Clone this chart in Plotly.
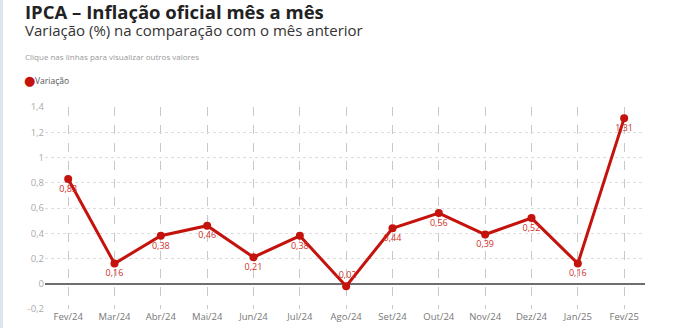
import plotly.graph_objects as go

months = ["Fev/24", "Mar/24", "Abr/24", "Mai/24", "Jun/24", "Jul/24", "Ago/24",
          "Set/24", "Out/24", "Nov/24", "Dez/24", "Jan/25", "Fev/25"]
values = [0.83, 0.16, 0.38, 0.46, 0.21, 0.38, -0.02, 0.44, 0.56, 0.39, 0.52, 0.16, 1.31]
labels = ["0,83", "0,16", "0,38", "0,46", "0,21", "0,38", "-0,02", "0,44", "0,56",
          "0,39", "0,52", "0,16", "1,31"]
y_ticks = [-0.2, 0, 0.2, 0.4, 0.6, 0.8, 1, 1.2, 1.4]
y_tick_text = ["-0,2", "0", "0,2", "0,4", "0,6", "0,8", "1", "1,2", "1,4"]

RED = "#c4120c"
W, H = 675, 328
L, R, T, B = 45, 30, 107, 19
pw = W - L - R
ph = H - T - B

def px_x(x):
    return (x - L) / pw

def px_y(y):
    return (H - B - y) / ph

idx = list(range(len(months)))
positions = ["top center" if v < 0 else "bottom center" for v in values]

fig = go.Figure()
fig.add_trace(go.Scatter(
    x=idx, y=values, mode="lines+markers+text",
    line=dict(color=RED, width=3),
    marker=dict(color=RED, size=8),
    text=labels, textposition=positions,
    textfont=dict(color="#d0302a", size=9, family="Open Sans"),
    showlegend=False, cliponaxis=False,
))

fig.update_layout(
    width=W, height=H,
    margin=dict(l=L, r=R, t=T, b=B, autoexpand=False),
    paper_bgcolor="white", plot_bgcolor="white",
    font=dict(family="Open Sans", color="#888"),
    xaxis=dict(
        range=[-0.5, 12.45], tickvals=idx, ticktext=months,
        showgrid=True, gridcolor="#c8c8c8", griddash="dash", gridwidth=1,
        zeroline=False, showline=False, automargin=False,
        tickfont=dict(size=9.5, color="#777"), ticks="",
    ),
    yaxis=dict(
        range=[-0.2, 1.4], tickvals=y_ticks, ticktext=y_tick_text,
        showgrid=True, gridcolor="#dddddd", griddash="dot", gridwidth=1,
        zeroline=True, zerolinecolor="#6e6e6e", zerolinewidth=2,
        tickfont=dict(size=9.5, color="#aaa"), ticks="",
        showline=False, automargin=False,
    ),
    showlegend=False,
    shapes=[
        dict(type="rect", xref="paper", yref="paper", x0=px_x(0), x1=px_x(3),
             y0=px_y(H), y1=px_y(0), fillcolor="#dde4ec", line=dict(width=0), layer="below"),
    ],
    annotations=[
        dict(text="<b>IPCA – Inflação oficial mês a mês</b>", x=px_x(23), y=px_y(-3),
             xref="paper", yref="paper", xanchor="left", yanchor="top", showarrow=False,
             font=dict(size=18.5, color="#222", family="Open Sans")),
        dict(text="Variação (%) na comparação com o mês anterior", x=px_x(23), y=px_y(18),
             xref="paper", yref="paper", xanchor="left", yanchor="top", showarrow=False,
             font=dict(size=15, color="#333", family="Open Sans")),
        dict(text="Clique nas linhas para visualizar outros valores", x=px_x(23), y=px_y(56),
             xref="paper", yref="paper", xanchor="left", yanchor="middle", showarrow=False,
             font=dict(size=8, color="#999", family="Open Sans")),
        dict(text="●", x=px_x(22), y=px_y(80),
             xref="paper", yref="paper", xanchor="left", yanchor="middle", showarrow=False,
             font=dict(size=13, color=RED, family="DejaVu Sans")),
        dict(text="Variação", x=px_x(33), y=px_y(80),
             xref="paper", yref="paper", xanchor="left", yanchor="middle", showarrow=False,
             font=dict(size=8.5, color="#555", family="Open Sans")),
    ],
)

fig.write_html("out.html")
